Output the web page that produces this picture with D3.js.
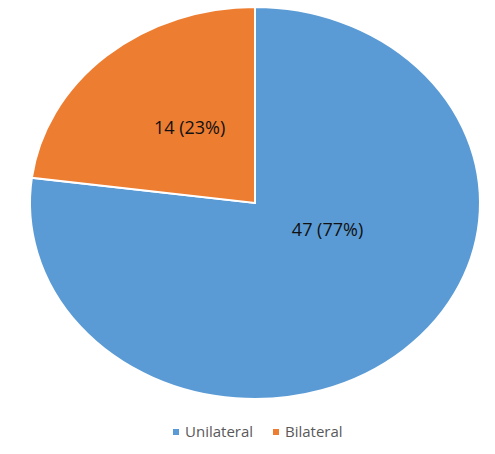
<!DOCTYPE html>
<html>
<head>
<meta charset="utf-8">
<script src="https://cdn.jsdelivr.net/npm/d3@7"></script>
<style>
    body { margin: 0; background: #fff; }
    svg { display: block; }
</style>
</head>
<body>
<div class="charts-div"></div>
<script>
const categories = ["Unilateral", "Bilateral"];
const counts = [47, 14];
const percents = [77, 23];

const colors = ["#5B9BD5", "#ED7D31"];

const width = 495,
    height = 454;

const cx = 255,
    cy = 203,
    rx = 225,
    ry = 196;

const svg = d3.select(".charts-div").append("svg").attr("width", width).attr("height", height);

const pie = d3
    .pie()
    .sort(null)
    .value((d) => d);

const arcs = pie(counts);

const arc = d3.arc().innerRadius(0).outerRadius(rx);

// squash the circle into the ellipse of the picture
const g = svg.append("g").attr("transform", `translate(${cx},${cy}) scale(1,${ry / rx})`);

g.selectAll("path.slice")
    .data(arcs)
    .enter()
    .append("path")
    .attr("class", "slice")
    .attr("d", arc)
    .attr("fill", (d, i) => colors[i])
    .attr("stroke", "#fff")
    .attr("stroke-width", 2)
    .attr("vector-effect", "non-scaling-stroke");

// label placement (Excel "best fit" style): radius fraction and angle nudge per slice
const labelRadius = [0.35, 0.48];
const labelNudge = [-0.45, 0.07];

svg.selectAll("text.data-label")
    .data(arcs)
    .enter()
    .append("text")
    .attr("class", "data-label")
    .attr("x", (d, i) => {
        const a = (d.startAngle + d.endAngle) / 2 + labelNudge[i];
        return cx + Math.sin(a) * rx * labelRadius[i];
    })
    .attr("y", (d, i) => {
        const a = (d.startAngle + d.endAngle) / 2 + labelNudge[i];
        return cy - Math.cos(a) * ry * labelRadius[i];
    })
    .attr("dy", "0.35em")
    .attr("text-anchor", "middle")
    .attr("font-family", "Open Sans, sans-serif")
    .attr("font-size", 18)
    .attr("fill", "#111")
    .text((d, i) => `${counts[i]} (${percents[i]}%)`);

// legend
const legend = svg.append("g").attr("transform", "translate(0,432)");
const legendX = [173, 273];

const item = legend
    .selectAll("g.legend-item")
    .data(categories)
    .enter()
    .append("g")
    .attr("class", "legend-item")
    .attr("transform", (d, i) => `translate(${legendX[i]},0)`);

item.append("rect")
    .attr("x", 0)
    .attr("y", -3)
    .attr("width", 6)
    .attr("height", 6)
    .attr("fill", (d, i) => colors[i]);

item.append("text")
    .attr("x", 12)
    .attr("y", 0)
    .attr("dy", "0.35em")
    .attr("font-family", "Open Sans, sans-serif")
    .attr("font-size", 15)
    .attr("fill", "#595959")
    .text((d) => d);
</script>
</body>
</html>
